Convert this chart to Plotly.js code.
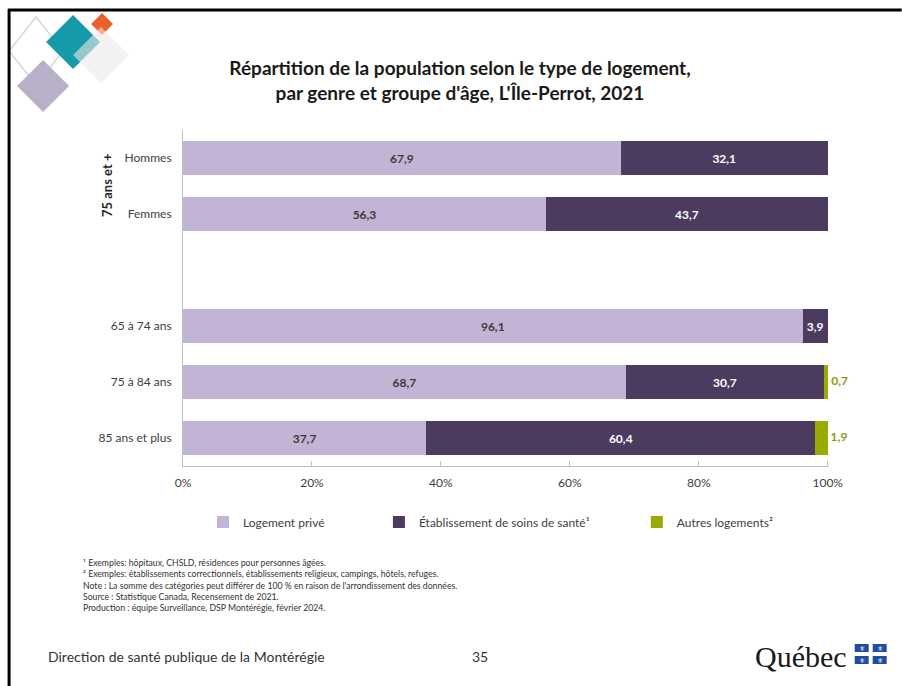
<!DOCTYPE html>
<html>
<head>
<meta charset="utf-8">
<script src="https://cdn.plot.ly/plotly-3.0.1.min.js"></script>
<style>html,body{margin:0;padding:0;background:#fff;}#chart{width:902px;height:686px;}</style>
</head>
<body>
<div id="chart"></div>
<script>
// ---- data ----
const categories = ['Hommes', 'Femmes', ' ', '65 à 74 ans', '75 à 84 ans', '85 ans et plus'];
const seriesNames = ['Logement privé', 'Établissement de soins de santé¹', 'Autres logements²'];
const prive  = [67.9, 56.3, null, 96.1, 68.7, 37.7];
const etab   = [32.1, 43.7, null, 3.9, 30.7, 60.4];
const autres = [null, null, null, null, 0.7, 1.9];
const xTicks = [0, 20, 40, 60, 80, 100];
const xTickLabels = ['0%', '20%', '40%', '60%', '80%', '100%'];
const groupLabel = '75 ans et +';
const titleText = "Répartition de la population selon le type de logement,<br>par genre et groupe d'âge, L'Île-Perrot, 2021";
const notes = [
  '¹ Exemples: hôpitaux, CHSLD, résidences pour personnes âgées.',
  '² Exemples: établissements correctionnels, établissements religieux, campings, hôtels, refuges.',
  "Note : La somme des catégories peut différer de 100 % en raison de l'arrondissement des données.",
  'Source : Statistique Canada, Recensement de 2021.',
  'Production : équipe Surveillance, DSP Montérégie, février 2024.'
];
const footerLeft = 'Direction de santé publique de la Montérégie';
const pageNum = '35';

// ---- layout geometry ----
const W = 902, H = 686;
const XMAX = 100.2;                       // a hair beyond 100 so the 100,1 stack end stays visible
const L = 183, R = 183 + 645 * XMAX / 100, T = 130, B = 466;
const px = x => (x - L) / (R - L);
const py = y => (B - y) / (B - T);
const FONT = 'Lato, "Open Sans", sans-serif';
const colors = ['#c2b4d4', '#4b3b5f', '#9aaa00'];

const common = {type: 'bar', orientation: 'h', y: categories, cliponaxis: false,
  texttemplate: '%{x:.1f}', constraintext: 'none', hoverinfo: 'skip'};

// end of each stack (for the outside labels of the small "Autres" segments)
const stackEnd = categories.map((c, i) => autres[i] == null ? null : (prive[i] || 0) + (etab[i] || 0) + autres[i]);

const traces = [
  Object.assign({}, common, {name: seriesNames[0], x: prive, marker: {color: colors[0]},
    textposition: 'inside', insidetextanchor: 'middle',
    insidetextfont: {family: FONT, size: 12, color: '#3a3a3a', weight: 'bold'}, legend: 'legend'}),
  Object.assign({}, common, {name: seriesNames[1], x: etab, marker: {color: colors[1]},
    textposition: 'inside', insidetextanchor: 'middle',
    insidetextfont: {family: FONT, size: 12, color: '#ffffff', weight: 'bold'}, legend: 'legend2'}),
  Object.assign({}, common, {name: seriesNames[2], x: autres, marker: {color: colors[2]},
    textposition: 'none', texttemplate: null, legend: 'legend3'}),
  {type: 'scatter', mode: 'text', x: stackEnd, y: categories, customdata: autres,
    texttemplate: ' %{customdata:.1f}', textposition: 'middle right', cliponaxis: false,
    textfont: {family: FONT, size: 12, color: '#8a9a0a', weight: 'bold'}, showlegend: false, hoverinfo: 'skip'}
];

function diamond(cx, cy, hx, hy) {
  hy = hy || hx;
  return `M${px(cx)},${py(cy - hy)} L${px(cx + hx)},${py(cy)} L${px(cx)},${py(cy + hy)} L${px(cx - hx)},${py(cy)} Z`;
}
function rect(x0, y0, x1, y1, color) {
  return {type: 'rect', xref: 'paper', yref: 'paper', x0: px(x0), x1: px(x1), y0: py(y1), y1: py(y0),
    fillcolor: color, line: {width: 0}};
}

const shapes = [
  // logo diamonds
  {type: 'path', xref: 'paper', yref: 'paper', path: diamond(36, 51, 27, 34), fillcolor: 'rgba(0,0,0,0)', line: {color: '#d6dbcc', width: 1.5}},
  {type: 'path', xref: 'paper', yref: 'paper', path: diamond(43, 86, 26), fillcolor: '#b8b0c9', line: {width: 0}},
  {type: 'path', xref: 'paper', yref: 'paper', path: diamond(73, 42, 27), fillcolor: '#1699a9', line: {width: 0}},
  {type: 'path', xref: 'paper', yref: 'paper', path: diamond(102, 24, 11), fillcolor: '#e8612a', line: {width: 0}},
  {type: 'path', xref: 'paper', yref: 'paper', path: diamond(101, 55, 28), fillcolor: 'rgba(236,234,232,0.6)', line: {width: 0}},
  // slide borders
  {type: 'rect', xref: 'paper', yref: 'paper', x0: px(0), x1: px(8), y0: py(686), y1: py(9), fillcolor: '#fff', line: {width: 0}},
  {type: 'line', xref: 'paper', yref: 'paper', x0: px(8), x1: px(902), y0: py(10), y1: py(10), line: {color: '#000', width: 3}},
  {type: 'line', xref: 'paper', yref: 'paper', x0: px(9), x1: px(9), y0: py(9), y1: py(686), line: {color: '#000', width: 3}},
  // Québec flag blocks
  rect(855, 644, 869, 652, '#1f4e9e'),
  rect(873, 644, 887, 652, '#1f4e9e'),
  rect(855, 656, 869, 664, '#1f4e9e'),
  rect(873, 656, 887, 664, '#1f4e9e')
];

const annotations = [
  {xref: 'paper', yref: 'paper', x: px(107), y: py(186), xanchor: 'center', yanchor: 'middle',
    text: '<b>' + groupLabel + '</b>', textangle: -90,
    showarrow: false, font: {family: FONT, size: 13, color: '#262626'}},
  {xref: 'paper', yref: 'paper', x: px(81), y: py(555), xanchor: 'left', yanchor: 'top', align: 'left',
    text: notes.join('<br>'), showarrow: false, font: {family: FONT, size: 8.7, color: '#333'}},
  {xref: 'paper', yref: 'paper', x: px(46), y: py(656), xanchor: 'left', yanchor: 'middle',
    text: footerLeft, showarrow: false, font: {family: FONT, size: 14, color: '#333'}},
  {xref: 'paper', yref: 'paper', x: px(480), y: py(656), xanchor: 'center', yanchor: 'middle',
    text: pageNum, showarrow: false, font: {family: FONT, size: 14, color: '#333'}},
  {xref: 'paper', yref: 'paper', x: px(753), y: py(656), xanchor: 'left', yanchor: 'middle',
    text: 'Québec', showarrow: false, font: {family: '"Liberation Serif", serif', size: 30, color: '#1a1a1a'}}
];
// tiny white marks in the flag blocks
[[862, 648], [880, 648], [862, 660], [880, 660]].forEach(p => {
  annotations.push({xref: 'paper', yref: 'paper', x: px(p[0]), y: py(p[1]), text: '⚜', showarrow: false,
    font: {size: 7, color: '#fff'}, xanchor: 'center', yanchor: 'middle'});
});

const legendBase = {orientation: 'h', yanchor: 'middle', y: py(522), xanchor: 'left',
  font: {family: FONT, size: 12, color: '#404040'}, bgcolor: 'rgba(0,0,0,0)', itemwidth: 30};

const layout = {
  width: W, height: H,
  margin: {l: L, r: W - R, t: T, b: H - B, pad: 0},
  paper_bgcolor: '#fff', plot_bgcolor: '#fff',
  separators: ', ',
  barmode: 'stack', bargap: 0.41,
  font: {family: FONT, color: '#404040'},
  title: {text: titleText, xref: 'container', yref: 'container', x: 460 / W, xanchor: 'center',
    y: 1 - 75 / H, yanchor: 'top', font: {family: FONT, size: 19, color: '#1a1a1a', weight: 'bold'}},
  xaxis: {range: [0, XMAX], tickmode: 'array', tickvals: xTicks, ticktext: xTickLabels, showgrid: false, zeroline: false,
    showline: true, linecolor: '#c0c0c0', linewidth: 1, ticks: 'inside', ticklen: 5, tickcolor: '#c0c0c0',
    ticklabelstandoff: 6, tickfont: {family: FONT, size: 12, color: '#404040'}, fixedrange: true},
  yaxis: {type: 'category', categoryorder: 'array', categoryarray: categories, autorange: 'reversed',
    showgrid: false, zeroline: false, showline: true, linecolor: '#c0c0c0', linewidth: 1, ticks: '',
    ticklabelstandoff: 8, tickfont: {family: FONT, size: 12, color: '#404040'}, fixedrange: true},
  showlegend: true,
  legend: Object.assign({}, legendBase, {x: px(203)}),
  legend2: Object.assign({}, legendBase, {x: px(379)}),
  legend3: Object.assign({}, legendBase, {x: px(637)}),
  shapes: shapes,
  annotations: annotations
};

Plotly.newPlot('chart', traces, layout, {displayModeBar: false, staticPlot: true});
</script>
</body>
</html>
